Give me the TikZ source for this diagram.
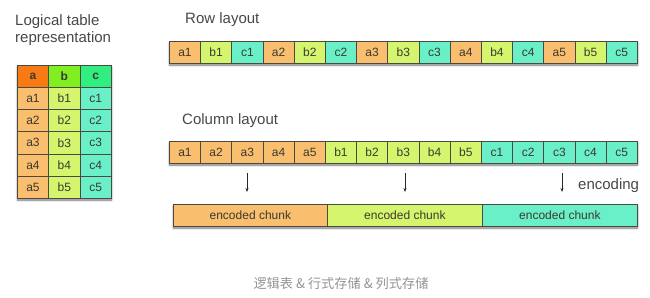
\documentclass[tikz,border=0pt]{standalone}
\usepackage{fontspec}
\setmainfont{Liberation Sans}
\newfontfamily\cjkfont{Noto Sans CJK SC}
\usetikzlibrary{shadows.blur,arrows.meta}
\definecolor{colAhead}{HTML}{F77A14}
\definecolor{colBhead}{HTML}{80EE20}
\definecolor{colChead}{HTML}{30EE80}
\definecolor{colA}{HTML}{F9BE6E}
\definecolor{colB}{HTML}{D6F56E}
\definecolor{colC}{HTML}{6AF0C8}
\definecolor{edge}{HTML}{4A4A40}
\definecolor{ink}{HTML}{3A3A30}
\tikzset{
  cell/.style={draw=edge, line width=0.7pt, minimum width=#1, minimum height=22pt,
    inner sep=0pt, anchor=north west, text=ink, font=\fontsize{12}{14}\selectfont},
  cell/.default=31.2pt,
  title/.style={anchor=west, inner sep=0pt, text=black!72, font=\fontsize{15}{17}\selectfont},
  barshadow/.style={fill=white, blur shadow={shadow xshift=0.5pt, shadow yshift=-2pt,
    shadow blur steps=6, shadow opacity=55}},
  enc/.style={-{Stealth[length=4pt,width=3pt]}, line width=0.8pt, black!85},
}
\begin{document}
\begin{tikzpicture}[x=1pt,y=-1pt]
\useasboundingbox (0,0) rectangle (650,297);

% logical table
\node[title] (ltitle1) at (15,22) {Logical table};
\node[title] (ltitle2) at (15,39) {representation};
\fill[barshadow] (17,65) rectangle (111,198);
\node[cell=31.3pt, fill=colAhead, font=\fontsize{12}{14}\selectfont\bfseries] (th-a) at (17,65) {a};
\node[cell=31.3pt, fill=colBhead, font=\fontsize{12}{14}\selectfont\bfseries] (th-b) at (48.3,65) {b};
\node[cell=31.3pt, fill=colChead, font=\fontsize{12}{14}\selectfont\bfseries] (th-c) at (79.6,65) {c};
\foreach \i in {1,...,5}{
  \pgfmathsetmacro{\yy}{65+22+(\i-1)*22.2}
  \node[cell=31.3pt, minimum height=22.2pt, fill=colA] (t-a\i) at (17,\yy) {a\i};
  \node[cell=31.3pt, minimum height=22.2pt, fill=colB] (t-b\i) at (48.3,\yy) {b\i};
  \node[cell=31.3pt, minimum height=22.2pt, fill=colC] (t-c\i) at (79.6,\yy) {c\i};
}

% row layout
\node[title] (rtitle) at (185,20) {Row layout};
\fill[barshadow] (169,41) rectangle (637,63);
\foreach \i in {1,...,5}{
  \pgfmathsetmacro{\xa}{169+(3*\i-3)*31.2}
  \pgfmathsetmacro{\xb}{169+(3*\i-2)*31.2}
  \pgfmathsetmacro{\xc}{169+(3*\i-1)*31.2}
  \node[cell, fill=colA] (r-a\i) at (\xa,41) {a\i};
  \node[cell, fill=colB] (r-b\i) at (\xb,41) {b\i};
  \node[cell, fill=colC] (r-c\i) at (\xc,41) {c\i};
}

% column layout
\node[title] (ctitle) at (182,121) {Column layout};
\fill[barshadow] (169,141) rectangle (637,163);
\foreach \i in {1,...,5}{
  \pgfmathsetmacro{\xa}{169+(\i-1)*31.2}
  \pgfmathsetmacro{\xb}{169+(\i+4)*31.2}
  \pgfmathsetmacro{\xc}{169+(\i+9)*31.2}
  \node[cell, fill=colA] (c-a\i) at (\xa,141) {a\i};
  \node[cell, fill=colB] (c-b\i) at (\xb,141) {b\i};
  \node[cell, fill=colC] (c-c\i) at (\xc,141) {c\i};
}

% encoding arrows
\coordinate (ea-s) at (247,173); \coordinate (ea-e) at (247,192);
\coordinate (eb-s) at (405,173); \coordinate (eb-e) at (405,192);
\coordinate (ec-s) at (562,173); \coordinate (ec-e) at (562,192);
\draw[enc] (ea-s) -- (ea-e);
\draw[enc] (eb-s) -- (eb-e);
\draw[enc] (ec-s) -- (ec-e);
\node[title] (enclabel) at (578,186) {encoding};

% encoded chunks
\fill[barshadow] (173,204) rectangle (637,226);
\node[cell=154pt, fill=colA] (chunk-a) at (173,204) {encoded chunk};
\node[cell=155pt, fill=colB] (chunk-b) at (327,204) {encoded chunk};
\node[cell=155pt, fill=colC] (chunk-c) at (482,204) {encoded chunk};

% caption
\node[inner sep=0pt, text=black!42, font=\cjkfont\fontsize{13.2}{15}\selectfont] (caption) at (341,283) {逻辑表 \& 行式存储 \& 列式存储};
\end{tikzpicture}
\end{document}
